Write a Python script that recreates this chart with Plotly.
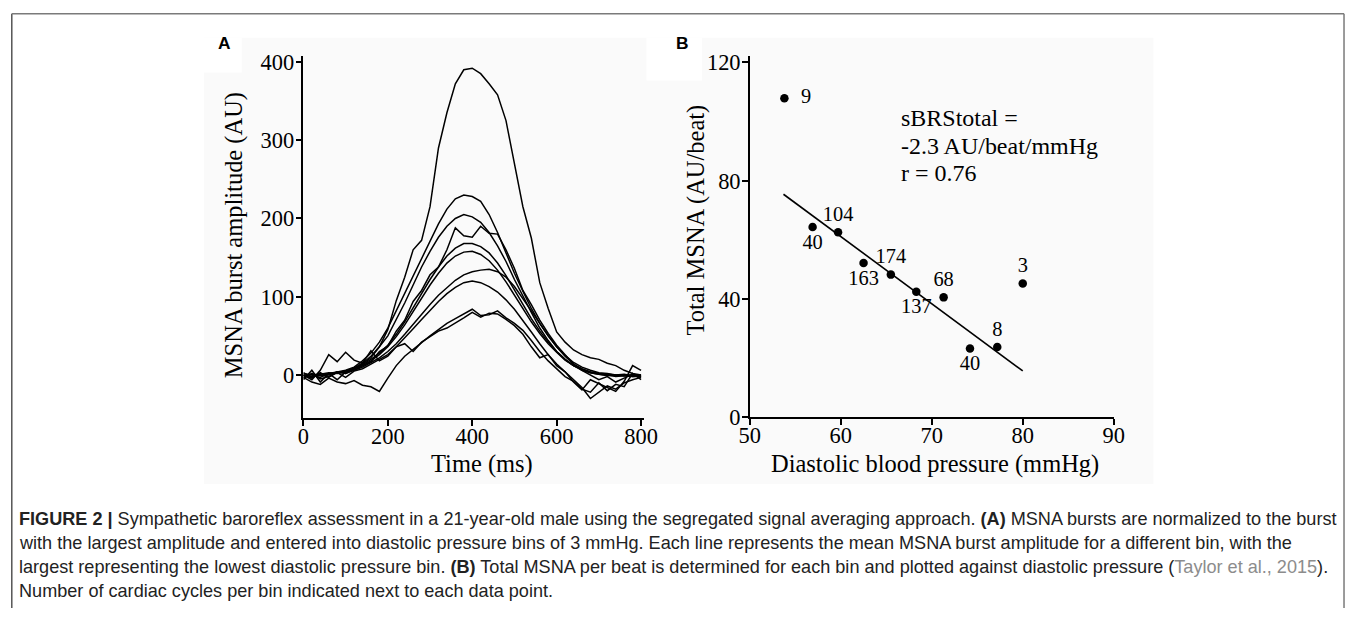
import plotly.graph_objects as go

# Figure size and the observed page->screenshot mapping (body margin 8 px, capture slightly scaled)
W, H = 1358, 621
MARGIN = 8
SX, SY, BY = 0.988, 0.971, 2.5
FS = 1.02  # font compensation for the capture scaling

# ---------------- Panel A data: mean MSNA burst amplitude per diastolic bin ----------------
time_ms = [0, 20, 40, 60, 80, 100, 120, 140, 160, 180, 200, 220, 240, 260, 280, 300, 320, 340, 360, 380,
           400, 420, 440, 460, 480, 500, 520, 540, 560, 580, 600, 620, 640, 660, 680, 700, 720, 740, 760, 780, 800]

bin1 = [0, -4, 3, -3, 4, 2, 8, 14, 22, 36, 58, 95, 125, 160, 172, 215, 290, 335, 372, 390,
        392, 385, 372, 358, 325, 270, 215, 175, 118, 85, 55, 42, 32, 26, 22, 20, 15, 12, 6, 2, 0]
bin2 = [2, 0, -3, 2, 4, 6, 10, 18, 28, 42, 60, 82, 105, 128, 150, 172, 193, 212, 225, 230,
        228, 222, 205, 182, 156, 130, 107, 85, 66, 50, 36, 25, 16, 10, 6, 3, 2, 0, -1, -2, -2]
bin3 = [-2, 1, -1, 2, 3, 5, 9, 15, 24, 36, 50, 70, 92, 115, 138, 158, 176, 190, 200, 205,
        202, 195, 182, 165, 145, 122, 100, 80, 60, 44, 30, 20, 12, 7, 4, 2, 1, 0, -1, 0, -1]
bin4 = [-6, 6, -9, 2, -6, 4, 6, 12, 17, 30, 37, 56, 70, 94, 108, 128, 138, 160, 188, 178,
        176, 190, 181, 180, 160, 136, 108, 90, 70, 53, 38, 26, 14, 6, 0, -6, -2, -9, -4, 1, -3]
bin5 = [0, -2, 1, 3, 2, 4, 8, 13, 20, 28, 38, 52, 68, 86, 104, 122, 138, 152, 162, 168,
        168, 164, 156, 143, 127, 109, 90, 72, 56, 42, 30, 20, 12, 7, 3, 1, 0, -1, 0, -2, -1]
bin6 = [-1, 1, 0, -2, 3, 5, 8, 12, 18, 26, 36, 49, 64, 81, 98, 115, 130, 143, 152, 157,
        158, 154, 146, 134, 119, 102, 85, 68, 53, 40, 29, 19, 12, 6, 3, 1, -1, 0, 1, -1, 0]
bin7 = [3, -3, 2, 0, 4, 2, 6, 10, 16, 22, 30, 40, 52, 65, 78, 90, 102, 112, 121, 128,
        132, 134, 135, 132, 125, 113, 98, 82, 66, 50, 36, 24, 14, 8, 4, 2, 0, -2, -1, 0, -2]
bin8 = [-4, 2, -5, -2, 3, -3, 5, 8, 14, 20, 26, 36, 47, 59, 71, 83, 94, 104, 112, 118,
        120, 118, 113, 106, 96, 84, 70, 55, 40, 26, 14, 4, -6, -16, -30, -22, -14, -18, -10, -6, -3]
bin9 = [-3, -9, -12, -4, -9, -11, -7, -13, -15, -21, -4, 12, 24, 33, 42, 50, 58, 66, 72, 78,
        84, 76, 77, 82, 73, 66, 57, 44, 30, 18, 8, -2, -8, -18, -22, -10, -20, -12, -15, 2, -6]
bin10 = [0, -6, 6, 26, 17, 29, 19, 15, 31, 18, 24, 36, 40, 30, 42, 49, 56, 60, 66, 73,
         80, 74, 79, 78, 71, 63, 52, 36, 22, 26, 12, 4, -9, -19, -6, -11, -16, -21, -8, 12, 6]

bins = [bin1, bin2, bin3, bin4, bin5, bin6, bin7, bin8, bin9, bin10]

# ---------------- Panel B data ----------------
dbp = [53.8, 56.9, 59.7, 62.5, 65.5, 68.3, 71.3, 74.2, 77.2, 80.0]
total_msna = [107.9, 64.3, 62.5, 52.1, 48.2, 42.4, 40.5, 23.2, 23.7, 45.2]
cycles = ["9", "40", "104", "163", "174", "137", "68", "40", "8", "3"]
fit_x = [53.7, 80.0]
fit_y = [75.4, 15.6]

xticks_a = [0, 200, 400, 600, 800]
yticks_a = [0, 100, 200, 300, 400]
xticks_b = [50, 60, 70, 80, 90]
yticks_b = [0, 40, 80, 120]

label_pos = ["middle right", "bottom center", "top center", "bottom center", "top center",
             "bottom center", "top center", "bottom center", "top center", "top center"]

SERIF = "Liberation Serif, Times New Roman, serif"
SANS = "Liberation Sans, Arial, sans-serif"


def px_x(t):
    """target screenshot x (px) -> paper fraction"""
    return (t / SX - MARGIN) / W


def px_y(t):
    """target screenshot y (px, from top) -> paper fraction"""
    return 1 - ((t + BY) / SY - MARGIN) / H


fig = go.Figure()

for b in bins:
    fig.add_trace(go.Scatter(x=time_ms, y=b, mode="lines", line=dict(color="black", width=1.5),
                             xaxis="x", yaxis="y", showlegend=False, hoverinfo="skip"))

fig.add_trace(go.Scatter(x=fit_x, y=fit_y, mode="lines", line=dict(color="black", width=1.6),
                         xaxis="x2", yaxis="y2", showlegend=False))
fig.add_trace(go.Scatter(x=dbp, y=total_msna, mode="markers+text",
                         text=["  " + c if p == "middle right" else c for c, p in zip(cycles, label_pos)],
                         textposition=label_pos,
                         textfont=dict(family=SERIF, size=20 * FS, color="black"),
                         marker=dict(color="black", size=8.5),
                         xaxis="x2", yaxis="y2", showlegend=False))

axis_common = dict(showline=True, linecolor="black", linewidth=1.5, ticks="outside", ticklen=6,
                   tickwidth=1.5, tickcolor="black", showgrid=False, zeroline=False,
                   tickfont=dict(family=SERIF, size=22 * FS, color="black"))

fig.update_layout(
    width=W, height=H, autosize=False,
    margin=dict(l=0, r=0, t=0, b=0),
    paper_bgcolor="white", plot_bgcolor="rgba(0,0,0,0)",
    xaxis=dict(domain=[px_x(302), px_x(645)], range=[0, 808], tickvals=xticks_a,
               anchor="y", ticklabelstandoff=-9, **axis_common),
    yaxis=dict(domain=[px_y(418), px_y(55)], range=[-55, 408], tickvals=yticks_a,
               anchor="x", ticklabelstandoff=-3, **axis_common),
    xaxis2=dict(domain=[px_x(751), px_x(1117)], range=[50, 90], tickvals=xticks_b,
                anchor="y2", ticklabelstandoff=-9, **axis_common),
    yaxis2=dict(domain=[px_y(417), px_y(55)], range=[0, 122.3], tickvals=yticks_b,
                anchor="x2", ticklabelstandoff=-3, **axis_common),
)

shapes = [
    # very light grey background of the figure panels
    dict(type="rect", xref="paper", yref="paper", x0=px_x(202), x1=px_x(1157), y0=px_y(484), y1=px_y(37),
         fillcolor="#fafafa", line=dict(width=0), layer="below"),
    dict(type="rect", xref="paper", yref="paper", x0=px_x(202), x1=px_x(240), y0=px_y(72), y1=px_y(37),
         fillcolor="white", line=dict(width=0), layer="below"),
    dict(type="rect", xref="paper", yref="paper", x0=px_x(647), x1=px_x(703), y0=px_y(80), y1=px_y(37),
         fillcolor="white", line=dict(width=0), layer="below"),
    # frame
    dict(type="line", xref="paper", yref="paper", x0=0.8 / W, x1=0.8 / W, y0=px_y(13), y1=0,
         line=dict(color="#555555", width=1.5)),
    dict(type="line", xref="paper", yref="paper", x0=0.8 / W, x1=(W - 1) / W, y0=px_y(13), y1=px_y(13),
         line=dict(color="#7a7a7a", width=1.5)),
    dict(type="line", xref="paper", yref="paper", x0=(W - 1) / W, x1=(W - 1) / W, y0=px_y(13), y1=0,
         line=dict(color="#7a7a7a", width=1.5)),
]
fig.update_layout(shapes=shapes)

ann = []


def add_text(text, x, y, size, family=SERIF, angle=0, xanchor="center", color="black"):
    ann.append(dict(text=text, x=px_x(x), y=px_y(y), xref="paper", yref="paper", showarrow=False,
                    xanchor=xanchor, yanchor="middle", textangle=angle,
                    font=dict(family=family, size=size * FS, color=color)))


# panel letters
add_text("<b>A</b>", 223, 42, 17, SANS)
add_text("<b>B</b>", 683, 42, 17, SANS)
# axis titles
add_text("MSNA burst amplitude (AU)", 233, 235, 24, angle=-90)
add_text("Time (ms)", 482, 464, 24)
add_text("Total MSNA (AU/beat)", 697, 220, 24, angle=-90)
add_text("Diastolic blood pressure (mmHg)", 937, 464, 24)
# regression annotation
add_text("sBRStotal =", 901, 117, 23.5, xanchor="left")
add_text("-2.3 AU/beat/mmHg", 901, 145, 23.5, xanchor="left")
add_text("r = 0.76", 901, 173, 23.5, xanchor="left")

# caption
cap = [
    "<b>FIGURE 2 |</b> Sympathetic baroreflex assessment in a 21-year-old male using the segregated signal averaging approach. <b>(A)</b> MSNA bursts are normalized to the burst",
    "with the largest amplitude and entered into diastolic pressure bins of 3 mmHg. Each line represents the mean MSNA burst amplitude for a different bin, with the",
    "largest representing the lowest diastolic pressure bin. <b>(B)</b> Total MSNA per beat is determined for each bin and plotted against diastolic pressure (<span style='color:#8c8c8c'>Taylor et al., 2015</span>).",
    "Number of cardiac cycles per bin indicated next to each data point.",
]
for i, line in enumerate(cap):
    add_text(line, 14, 519 + 24 * i, 17.75, SANS, xanchor="left", color="#222222")

fig.update_layout(annotations=ann)

fig.write_html("out.html")
